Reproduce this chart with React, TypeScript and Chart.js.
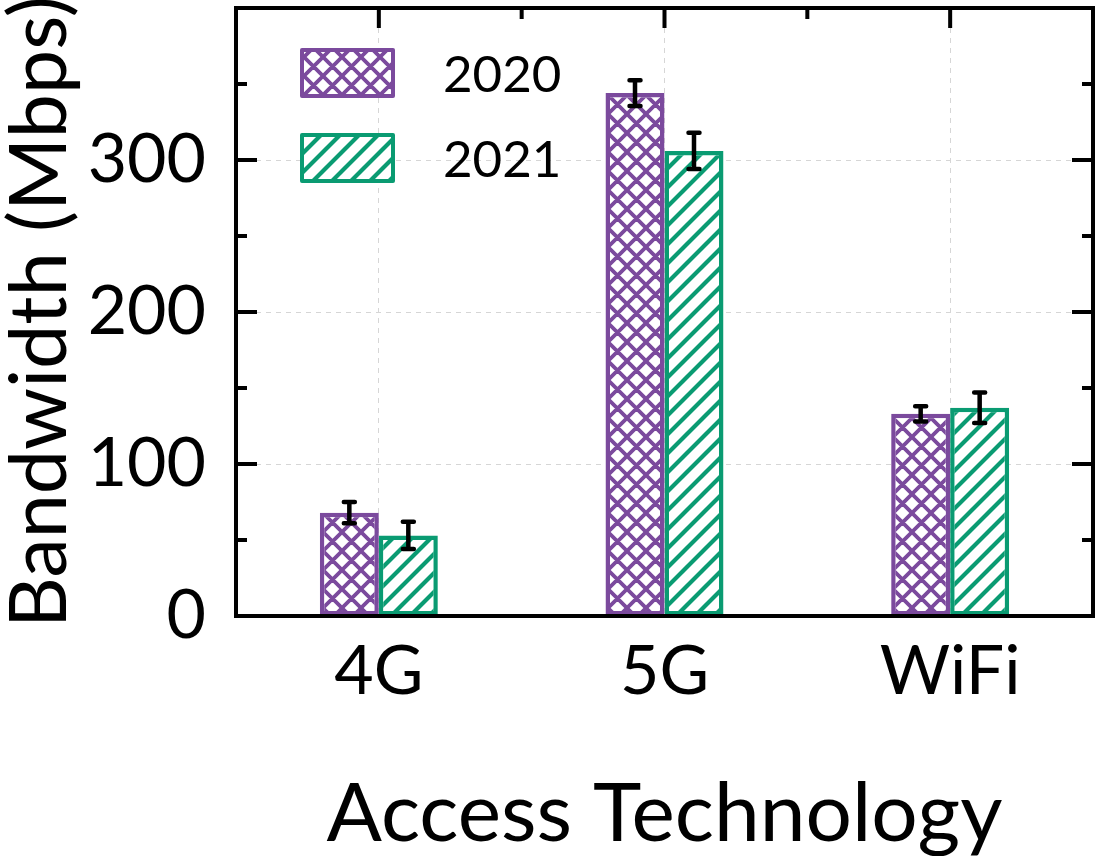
import React, { useEffect, useRef } from "react";
import { Chart, registerables } from "chart.js";

Chart.register(...registerables);

// Mean bandwidth per access technology and year, with error half-widths
const categories = ["4G", "5G", "WiFi"];
const years = ["2020", "2021"];
const bw2020 = [68, 344, 133];
const bw2021 = [53, 306, 137];
const err2020 = [7, 8.5, 5];
const err2021 = [9, 12, 10];
const yMajorTicks = [0, 100, 200, 300];

const PURPLE = "#7b4a9d";
const GREEN = "#0a9b72";
const FONT = "Lato, 'Open Sans', sans-serif";

function makePattern(
  ctx: CanvasRenderingContext2D,
  kind: "cross" | "diag",
  color: string,
  size: number,
  lw: number
) {
  const c = document.createElement("canvas");
  c.width = size;
  c.height = size;
  const g = c.getContext("2d")!;
  g.fillStyle = "#ffffff";
  g.fillRect(0, 0, size, size);
  g.strokeStyle = color;
  g.lineWidth = lw;
  const d = size;
  g.beginPath();
  for (const k of [-1, 0, 1, 2]) {
    const c0 = k * d;
    // "/" lines: x + y = c0
    g.moveTo(-d, c0 + d);
    g.lineTo(2 * d, c0 - 2 * d);
    if (kind === "cross") {
      // "\" lines: x - y = c0
      g.moveTo(-d, -d - c0);
      g.lineTo(2 * d, 2 * d - c0);
    }
  }
  g.stroke();
  return ctx.createPattern(c, "repeat")!;
}

export default function App() {
  const ref = useRef<HTMLCanvasElement | null>(null);

  useEffect(() => {
    const canvas = ref.current!;
    const ctx = canvas.getContext("2d")!;
    const pat2020 = makePattern(ctx, "cross", PURPLE, 19, 3.8);
    const pat2021 = makePattern(ctx, "diag", GREEN, 19, 4.2);
    const values = [bw2020, bw2021];
    const errors = [err2020, err2021];
    const colors = [PURPLE, GREEN];
    const patterns = [pat2020, pat2021];

    const decor = {
      id: "decor",
      afterDatasetsDraw(chart: any) {
        const { ctx: c, chartArea: a, scales } = chart;
        const y = scales.y;
        const x = scales.x;
        c.save();

        // error bars
        c.strokeStyle = "#000";
        c.lineWidth = 4.5;
        c.lineCap = "round";
        values.forEach((vals, di) => {
          const meta = chart.getDatasetMeta(di);
          meta.data.forEach((bar: any, i: number) => {
            const cx = bar.x;
            const top = y.getPixelForValue(vals[i] + errors[di][i]);
            const bot = y.getPixelForValue(vals[i] - errors[di][i]);
            c.beginPath();
            c.moveTo(cx, top);
            c.lineTo(cx, bot);
            c.moveTo(cx - 5.5, top);
            c.lineTo(cx + 5.5, top);
            c.moveTo(cx - 5.5, bot);
            c.lineTo(cx + 5.5, bot);
            c.stroke();
          });
        });

        // frame
        c.lineCap = "butt";
        c.lineWidth = 4;
        c.strokeRect(a.left, a.top, a.right - a.left, a.bottom - a.top);

        // inward y ticks on both sides
        c.beginPath();
        for (let v = 50; v < 400; v += 50) {
          const py = y.getPixelForValue(v);
          const len = v % 100 === 0 ? 21 : 11;
          c.moveTo(a.left, py);
          c.lineTo(a.left + len, py);
          c.moveTo(a.right, py);
          c.lineTo(a.right - len, py);
        }
        // top ticks: long at category centres, short between categories
        categories.forEach((_, i) => {
          const px = x.getPixelForValue(i);
          c.moveTo(px, a.top);
          c.lineTo(px, a.top + 20);
          if (i > 0) {
            const mid = (x.getPixelForValue(i - 1) + px) / 2;
            c.moveTo(mid, a.top);
            c.lineTo(mid, a.top + 11);
          }
        });
        c.stroke();

        // legend
        const lx = a.left + 66;
        years.forEach((yr, i) => {
          const by = a.top + 42 + i * 85;
          c.fillStyle = patterns[i];
          c.fillRect(lx, by, 91, 46);
          c.strokeStyle = colors[i];
          c.lineWidth = 4;
          c.lineJoin = "round";
          c.strokeRect(lx, by, 91, 46);
          c.fillStyle = "#000";
          c.font = `51px ${FONT}`;
          c.textAlign = "left";
          c.textBaseline = "alphabetic";
          c.fillText(yr, lx + 141, by + 42);
        });
        c.restore();
      },
    };

    const chart = new Chart(canvas, {
      type: "bar",
      data: {
        labels: categories,
        datasets: years.map((yr, i) => ({
          label: yr,
          data: values[i],
          backgroundColor: patterns[i],
          borderColor: colors[i],
          borderWidth: 4.5,
          borderSkipped: false,
          barPercentage: 1,
          categoryPercentage: 0.413,
        })),
      },
      options: {
        responsive: false,
        animation: false,
        layout: { padding: { top: 8, right: 9, left: 0, bottom: 0 } },
        plugins: {
          legend: { display: false },
          tooltip: { enabled: false },
        },
        scales: {
          x: {
            offset: true,
            grid: { offset: false, color: "#d6d6d6", lineWidth: 1, drawTicks: false },
            border: { display: false, dash: [5, 5] },
            ticks: {
              color: "#000",
              font: { family: FONT, size: 68 },
              padding: 15,
            },
            title: {
              display: true,
              text: "Access Technology",
              color: "#000",
              font: { family: FONT, size: 82, lineHeight: 1 },
              padding: { top: 0, bottom: 0 },
            },
            afterFit(scale: any) {
              scale.height = 240;
              scale.paddingLeft = 0;
              scale.paddingRight = 0;
            },
          },
          y: {
            min: 0,
            max: 400,
            grid: { color: "#d6d6d6", lineWidth: 1, drawTicks: false },
            border: { display: false, dash: [5, 5] },
            ticks: {
              stepSize: 50,
              color: "#000",
              font: { family: FONT, size: 68 },
              padding: 30,
              callback: (v: any) => (yMajorTicks.includes(Number(v)) ? String(v) : ""),
            },
            title: {
              display: true,
              text: "Bandwidth (Mbps)",
              color: "#000",
              font: { family: FONT, size: 79, lineHeight: 1 },
              padding: { top: 1, bottom: 0 },
            },
            afterFit(scale: any) {
              scale.width = 236;
              scale.paddingTop = 0;
              scale.paddingBottom = 0;
            },
          },
        },
      },
      plugins: [decor],
    });
    return () => chart.destroy();
  }, []);

  return (
    <div style={{ position: "fixed", left: 0, top: 0, width: 1102, height: 856, background: "#fff" }}>
      <canvas ref={ref} width={1102} height={856} />
    </div>
  );
}
